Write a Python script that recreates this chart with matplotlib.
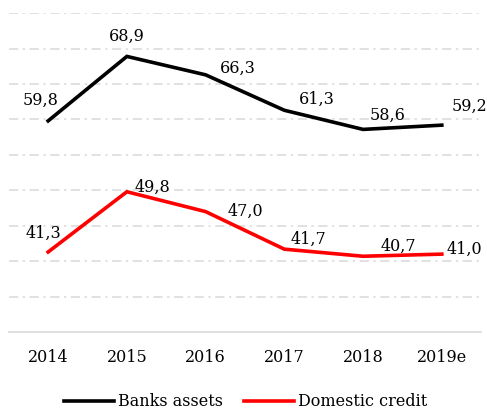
import numpy as np
import matplotlib
matplotlib.use("Agg")
import matplotlib.pyplot as plt

plt.rcParams['font.family'] = ['DejaVu Serif']

years = ['2014', '2015', '2016', '2017', '2018', '2019e']
banks_assets = [59.8, 68.9, 66.3, 61.3, 58.6, 59.2]
domestic_credit = [41.3, 49.8, 47.0, 41.7, 40.7, 41.0]

# label offsets in pixels (dx, dy)
off_black = [(-8, 21), (0, 20), (32, 7), (32, 11), (25, 14), (28, 19)]
off_red = [(-5, 19), (26, 4), (40, 0), (24, 10), (35, 10), (23, 5)]

fig = plt.figure(figsize=(4.87, 4.12), dpi=100)
ax = fig.add_axes([0.018, 0.194, 0.97, 0.774])

x = np.arange(len(years))
ax.plot(x, banks_assets, color='black', lw=2.6, label='Banks assets',
        solid_joinstyle='miter')
ax.plot(x, domestic_credit, color='#ff0000', lw=2.6, label='Domestic credit',
        solid_joinstyle='miter')

fs = 11.5
for xi, v, o in zip(x, banks_assets, off_black):
    ax.annotate(f'{v:.1f}'.replace('.', ','), (xi, v), xytext=o,
                textcoords='offset pixels', ha='center', va='center', fontsize=fs)
for xi, v, o in zip(x, domestic_credit, off_red):
    ax.annotate(f'{v:.1f}'.replace('.', ','), (xi, v), xytext=o,
                textcoords='offset pixels', ha='center', va='center', fontsize=fs)

ax.set_xlim(-0.5, len(years) - 0.5)
ax.set_ylim(30, 75)
ax.set_yticks(np.arange(35, 76, 5))
ax.yaxis.grid(True, color='#d9d9d9', lw=1.1, linestyle=(0, (6, 3, 1.5, 3)))
ax.set_axisbelow(True)
ax.tick_params(axis='y', left=False, labelleft=False)
ax.set_xticks(x)
ax.set_xticklabels(years, fontsize=fs)
ax.tick_params(axis='x', length=0, pad=12)
for s in ['top', 'left', 'right']:
    ax.spines[s].set_visible(False)
ax.spines['bottom'].set_color('#d9d9d9')
ax.spines['bottom'].set_linewidth(1.2)

fig.legend(loc='center', bbox_to_anchor=(0.505, 0.025), ncol=2, frameon=False,
           fontsize=fs, handlelength=3.1, columnspacing=1.3, handletextpad=0.3)

fig.savefig('out.png', dpi=100)
